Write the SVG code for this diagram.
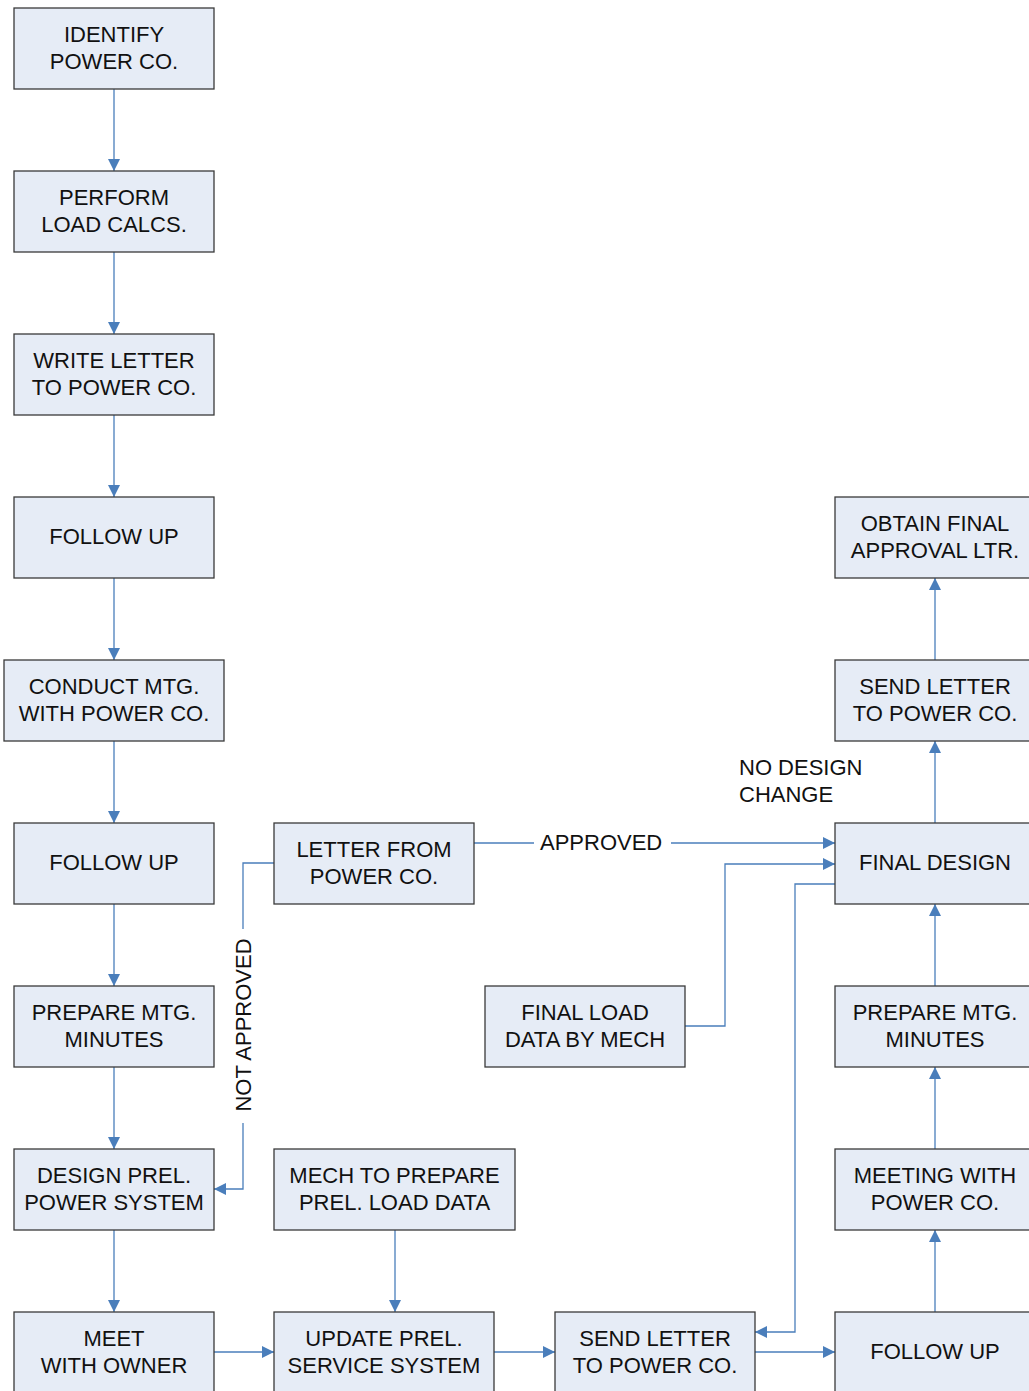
<svg xmlns="http://www.w3.org/2000/svg" width="1029" height="1391" viewBox="0 0 1029 1391">
<style>
.box{fill:#E6ECF6;stroke:#3A3A3A;stroke-width:1.3}
.t{font-family:"Liberation Sans",Arial,sans-serif;font-size:22px;fill:#111;text-anchor:middle}
.l{font-family:"Liberation Sans",Arial,sans-serif;font-size:22px;fill:#111}
.c{fill:none;stroke:#4A7EBB;stroke-width:1.3}
</style>
<defs>
<marker id="ah" markerUnits="userSpaceOnUse" markerWidth="14" markerHeight="12" refX="12" refY="6" orient="auto">
<path d="M0,0 L12,6 L0,12 Z" fill="#4A7EBB"/>
</marker>
</defs>
<rect width="1029" height="1391" fill="#fff"/>
<g id="connectors">
<line class="c" x1="114" y1="89" x2="114" y2="171" marker-end="url(#ah)"/>
<line class="c" x1="114" y1="252" x2="114" y2="334" marker-end="url(#ah)"/>
<line class="c" x1="114" y1="415" x2="114" y2="497" marker-end="url(#ah)"/>
<line class="c" x1="114" y1="578" x2="114" y2="660" marker-end="url(#ah)"/>
<line class="c" x1="114" y1="741" x2="114" y2="823" marker-end="url(#ah)"/>
<line class="c" x1="114" y1="904" x2="114" y2="986" marker-end="url(#ah)"/>
<line class="c" x1="114" y1="1067" x2="114" y2="1149" marker-end="url(#ah)"/>
<line class="c" x1="114" y1="1230" x2="114" y2="1312" marker-end="url(#ah)"/>
<polyline class="c" points="274,863 243,863 243,929"/>
<polyline class="c" points="243,1123 243,1189 214,1189" marker-end="url(#ah)"/>
<line class="c" x1="474" y1="843" x2="534" y2="843"/>
<line class="c" x1="671" y1="843" x2="835" y2="843" marker-end="url(#ah)"/>
<polyline class="c" points="685,1026 725,1026 725,864 835,864" marker-end="url(#ah)"/>
<polyline class="c" points="835,884 795,884 795,1332 755,1332" marker-end="url(#ah)"/>
<line class="c" x1="395" y1="1230" x2="395" y2="1312" marker-end="url(#ah)"/>
<line class="c" x1="214" y1="1352" x2="274" y2="1352" marker-end="url(#ah)"/>
<line class="c" x1="494" y1="1352" x2="555" y2="1352" marker-end="url(#ah)"/>
<line class="c" x1="755" y1="1352" x2="835" y2="1352" marker-end="url(#ah)"/>
<line class="c" x1="935" y1="1312" x2="935" y2="1230" marker-end="url(#ah)"/>
<line class="c" x1="935" y1="1149" x2="935" y2="1067" marker-end="url(#ah)"/>
<line class="c" x1="935" y1="986" x2="935" y2="904" marker-end="url(#ah)"/>
<line class="c" x1="935" y1="823" x2="935" y2="741" marker-end="url(#ah)"/>
<line class="c" x1="935" y1="660" x2="935" y2="578" marker-end="url(#ah)"/>
<text class="l" x="540" y="850">APPROVED</text>
<text class="t" x="243" y="1033" transform="rotate(-90 243 1025)">NOT APPROVED</text>
<text class="l" x="739" y="775">NO DESIGN</text>
<text class="l" x="739" y="802">CHANGE</text>
</g>
<g id="identify"><rect class="box" x="14" y="8" width="200" height="81"/><text class="t" x="114" y="42">IDENTIFY</text><text class="t" x="114" y="69">POWER CO.</text></g>
<g id="perform"><rect class="box" x="14" y="171" width="200" height="81"/><text class="t" x="114" y="205">PERFORM</text><text class="t" x="114" y="232">LOAD CALCS.</text></g>
<g id="write"><rect class="box" x="14" y="334" width="200" height="81"/><text class="t" x="114" y="368">WRITE LETTER</text><text class="t" x="114" y="395">TO POWER CO.</text></g>
<g id="follow1"><rect class="box" x="14" y="497" width="200" height="81"/><text class="t" x="114" y="544">FOLLOW UP</text></g>
<g id="conduct"><rect class="box" x="4" y="660" width="220" height="81"/><text class="t" x="114" y="694">CONDUCT MTG.</text><text class="t" x="114" y="721">WITH POWER CO.</text></g>
<g id="follow2"><rect class="box" x="14" y="823" width="200" height="81"/><text class="t" x="114" y="870">FOLLOW UP</text></g>
<g id="prepare1"><rect class="box" x="14" y="986" width="200" height="81"/><text class="t" x="114" y="1020">PREPARE MTG.</text><text class="t" x="114" y="1047">MINUTES</text></g>
<g id="designprel"><rect class="box" x="14" y="1149" width="200" height="81"/><text class="t" x="114" y="1183">DESIGN PREL.</text><text class="t" x="114" y="1210">POWER SYSTEM</text></g>
<g id="meetowner"><rect class="box" x="14" y="1312" width="200" height="81"/><text class="t" x="114" y="1346">MEET</text><text class="t" x="114" y="1373">WITH OWNER</text></g>
<g id="letterfrom"><rect class="box" x="274" y="823" width="200" height="81"/><text class="t" x="374" y="857">LETTER FROM</text><text class="t" x="374" y="884">POWER CO.</text></g>
<g id="mechprep"><rect class="box" x="274" y="1149" width="241" height="81"/><text class="t" x="394.5" y="1183">MECH TO PREPARE</text><text class="t" x="394.5" y="1210">PREL. LOAD DATA</text></g>
<g id="updateprel"><rect class="box" x="274" y="1312" width="220" height="81"/><text class="t" x="384" y="1346">UPDATE PREL.</text><text class="t" x="384" y="1373">SERVICE SYSTEM</text></g>
<g id="finalload"><rect class="box" x="485" y="986" width="200" height="81"/><text class="t" x="585" y="1020">FINAL LOAD</text><text class="t" x="585" y="1047">DATA BY MECH</text></g>
<g id="sendletter1"><rect class="box" x="555" y="1312" width="200" height="81"/><text class="t" x="655" y="1346">SEND LETTER</text><text class="t" x="655" y="1373">TO POWER CO.</text></g>
<g id="obtain"><rect class="box" x="835" y="497" width="200" height="81"/><text class="t" x="935" y="531">OBTAIN FINAL</text><text class="t" x="935" y="558">APPROVAL LTR.</text></g>
<g id="sendletter2"><rect class="box" x="835" y="660" width="200" height="81"/><text class="t" x="935" y="694">SEND LETTER</text><text class="t" x="935" y="721">TO POWER CO.</text></g>
<g id="finaldesign"><rect class="box" x="835" y="823" width="200" height="81"/><text class="t" x="935" y="870">FINAL DESIGN</text></g>
<g id="prepare2"><rect class="box" x="835" y="986" width="200" height="81"/><text class="t" x="935" y="1020">PREPARE MTG.</text><text class="t" x="935" y="1047">MINUTES</text></g>
<g id="meetingpower"><rect class="box" x="835" y="1149" width="200" height="81"/><text class="t" x="935" y="1183">MEETING WITH</text><text class="t" x="935" y="1210">POWER CO.</text></g>
<g id="follow3"><rect class="box" x="835" y="1312" width="200" height="81"/><text class="t" x="935" y="1359">FOLLOW UP</text></g>
</svg>
